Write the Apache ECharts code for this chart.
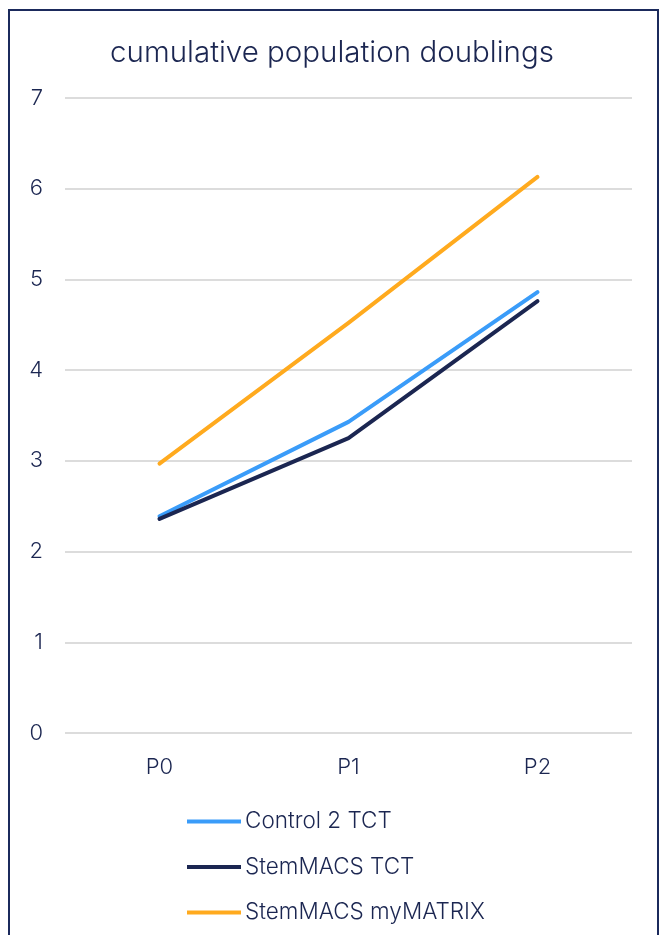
<!DOCTYPE html>
<html>
<head>
<meta charset="utf-8">
<script src="https://cdn.jsdelivr.net/npm/echarts@6/dist/echarts.min.js"></script>
<style>
  html, body { margin: 0; padding: 0; background: #ffffff; }
  #wrap { position: relative; width: 664px; height: 935px; overflow: hidden; }
  #frame {
    position: absolute; left: 8px; top: 9px; width: 651px; height: 940px;
    border: 2px solid #1b2a5c; box-sizing: border-box;
  }
  #chart { position: absolute; left: 0; top: 0; width: 664px; height: 935px; }
</style>
</head>
<body>
<div id="wrap">
  <div id="frame"></div>
  <div id="chart"></div>
</div>
<script>
// Passages and cumulative population doublings per medium
const passages = ['P0', 'P1', 'P2'];
const control2TCT = [2.39, 3.43, 4.86];
const stemMacsTCT = [2.36, 3.25, 4.76];
const stemMacsMyMatrix = [2.97, 4.52, 6.13];
const yTicks = [0, 1, 2, 3, 4, 5, 6, 7];

const textColor = '#1b2651';
const font = 'Inter, "Open Sans", sans-serif';

const chart = echarts.init(document.getElementById('chart'), null, { renderer: 'canvas' });

function lineSeries(name, data, color) {
  return {
    name: name,
    type: 'line',
    data: data,
    showSymbol: false,
    symbol: 'none',
    lineStyle: { color: color, width: 4, cap: 'round', join: 'round' },
    itemStyle: { color: color },
    emphasis: { disabled: true }
  };
}

chart.setOption({
  animation: false,
  backgroundColor: 'transparent',
  textStyle: { fontFamily: font, color: textColor },
  title: {
    text: 'cumulative population doublings',
    left: 'center',
    top: 33,
    textStyle: { fontFamily: font, fontSize: 29.5, fontWeight: 300, color: textColor }
  },
  legend: {
    orient: 'vertical',
    left: 182,
    top: 805,
    itemWidth: 54,
    itemHeight: 4,
    itemGap: 22.5,
    icon: 'rect',
    textStyle: { fontFamily: font, fontSize: 22.5, fontWeight: 300, color: textColor, padding: [0, 0, 0, -1] },
    data: ['Control 2 TCT', 'StemMACS TCT', 'StemMACS myMATRIX']
  },
  grid: { left: 65, right: 32, top: 98, bottom: 202, containLabel: false },
  xAxis: {
    type: 'category',
    data: passages,
    boundaryGap: true,
    axisLine: { show: false },
    axisTick: { show: false },
    axisLabel: { margin: 23, fontSize: 22, fontWeight: 300, color: textColor, fontFamily: font }
  },
  yAxis: {
    type: 'value',
    min: yTicks[0],
    max: yTicks[yTicks.length - 1],
    interval: 1,
    axisLine: { show: false },
    axisTick: { show: false },
    axisLabel: { margin: 22, fontSize: 22, fontWeight: 300, color: textColor, fontFamily: font },
    splitLine: { lineStyle: { color: '#dcdcdc', width: 2 } }
  },
  series: [
    lineSeries('Control 2 TCT', control2TCT, '#3a9cf9'),
    lineSeries('StemMACS TCT', stemMacsTCT, '#1b2651'),
    lineSeries('StemMACS myMATRIX', stemMacsMyMatrix, '#ffaa1e')
  ]
});
</script>
</body>
</html>
